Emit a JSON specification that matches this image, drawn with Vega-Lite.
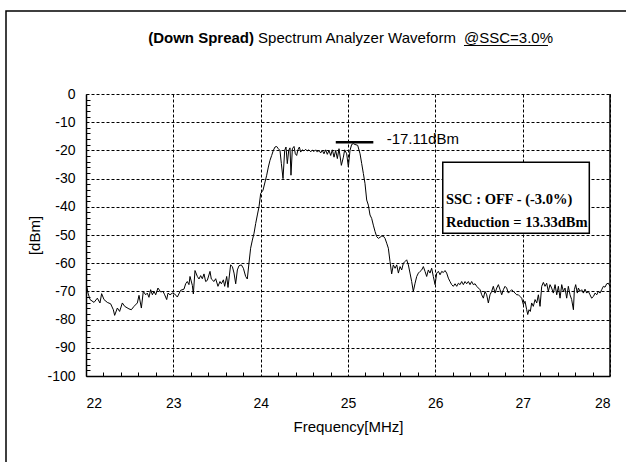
{
  "$schema": "https://vega.github.io/schema/vega-lite/v6.json",
  "width": 524,
  "height": 282,
  "autosize": "none",
  "padding": {"left": 86, "top": 94, "right": 16, "bottom": 86},
  "background": "white",
  "config": {"view": {"stroke": null}, "font": "Liberation Sans"},
  "datasets": {
    "spectrum": [
      {"f":22.008,"db":-68.0},{"f":22.023,"db":-70.6},{"f":22.046,"db":-72.9},{"f":22.092,"db":-73.9},{"f":22.130,"db":-72.4},{"f":22.160,"db":-74.1},{"f":22.179,"db":-70.8},{"f":22.206,"db":-72.9},{"f":22.244,"db":-73.9},{"f":22.282,"db":-74.4},{"f":22.313,"db":-76.5},{"f":22.328,"db":-78.5},{"f":22.359,"db":-75.9},{"f":22.385,"db":-77.1},{"f":22.416,"db":-74.1},{"f":22.443,"db":-75.3},{"f":22.492,"db":-76.2},{"f":22.519,"db":-76.5},{"f":22.550,"db":-75.3},{"f":22.588,"db":-74.1},{"f":22.607,"db":-71.4},{"f":22.634,"db":-75.9},{"f":22.656,"db":-70.0},{"f":22.683,"db":-71.2},{"f":22.702,"db":-70.6},{"f":22.721,"db":-72.1},{"f":22.740,"db":-69.4},{"f":22.760,"db":-71.2},{"f":22.779,"db":-70.0},{"f":22.798,"db":-71.2},{"f":22.824,"db":-68.8},{"f":22.855,"db":-70.2},{"f":22.882,"db":-70.0},{"f":22.901,"db":-71.2},{"f":22.924,"db":-72.9},{"f":22.939,"db":-70.6},{"f":22.962,"db":-71.2},{"f":22.989,"db":-70.6},{"f":23.015,"db":-70.9},{"f":23.046,"db":-72.0},{"f":23.084,"db":-69.6},{"f":23.122,"db":-69.2},{"f":23.141,"db":-67.3},{"f":23.160,"db":-66.5},{"f":23.179,"db":-67.6},{"f":23.191,"db":-64.7},{"f":23.218,"db":-67.9},{"f":23.229,"db":-70.9},{"f":23.248,"db":-62.6},{"f":23.275,"db":-64.7},{"f":23.294,"db":-65.6},{"f":23.313,"db":-64.4},{"f":23.332,"db":-65.5},{"f":23.351,"db":-63.8},{"f":23.370,"db":-66.5},{"f":23.389,"db":-66.1},{"f":23.420,"db":-62.9},{"f":23.435,"db":-65.6},{"f":23.466,"db":-66.5},{"f":23.485,"db":-65.5},{"f":23.511,"db":-68.2},{"f":23.534,"db":-66.5},{"f":23.550,"db":-67.3},{"f":23.573,"db":-65.9},{"f":23.588,"db":-68.2},{"f":23.611,"db":-64.7},{"f":23.626,"db":-68.6},{"f":23.656,"db":-60.6},{"f":23.676,"db":-61.2},{"f":23.695,"db":-63.5},{"f":23.714,"db":-67.3},{"f":23.733,"db":-62.4},{"f":23.752,"db":-60.9},{"f":23.779,"db":-60.6},{"f":23.802,"db":-61.8},{"f":23.828,"db":-64.7},{"f":23.847,"db":-65.6},{"f":23.866,"db":-60.0},{"f":23.885,"db":-54.7},{"f":23.905,"db":-51.8},{"f":23.924,"db":-49.4},{"f":23.943,"db":-45.9},{"f":23.962,"db":-42.9},{"f":23.981,"db":-40.0},{"f":24.000,"db":-35.3},{"f":24.027,"db":-34.1},{"f":24.050,"db":-31.2},{"f":24.069,"db":-28.8},{"f":24.088,"db":-25.9},{"f":24.107,"db":-23.5},{"f":24.126,"db":-21.8},{"f":24.145,"db":-20.0},{"f":24.164,"db":-18.8},{"f":24.183,"db":-18.6},{"f":24.202,"db":-19.4},{"f":24.221,"db":-20.0},{"f":24.237,"db":-24.7},{"f":24.256,"db":-30.0},{"f":24.275,"db":-20.0},{"f":24.290,"db":-18.8},{"f":24.305,"db":-24.7},{"f":24.321,"db":-20.0},{"f":24.336,"db":-19.1},{"f":24.347,"db":-28.8},{"f":24.363,"db":-19.4},{"f":24.382,"db":-18.6},{"f":24.397,"db":-21.2},{"f":24.412,"db":-21.8},{"f":24.427,"db":-19.8},{"f":24.443,"db":-18.8},{"f":24.458,"db":-20.6},{"f":24.477,"db":-19.8},{"f":24.496,"db":-20.2},{"f":24.515,"db":-19.6},{"f":24.534,"db":-20.2},{"f":24.553,"db":-19.8},{"f":24.573,"db":-20.5},{"f":24.592,"db":-19.9},{"f":24.611,"db":-20.4},{"f":24.630,"db":-19.8},{"f":24.649,"db":-20.6},{"f":24.668,"db":-20.0},{"f":24.687,"db":-20.9},{"f":24.706,"db":-20.0},{"f":24.725,"db":-21.2},{"f":24.744,"db":-19.8},{"f":24.763,"db":-21.4},{"f":24.782,"db":-20.0},{"f":24.802,"db":-21.8},{"f":24.821,"db":-19.8},{"f":24.840,"db":-22.4},{"f":24.859,"db":-20.0},{"f":24.878,"db":-22.9},{"f":24.897,"db":-19.4},{"f":24.924,"db":-25.3},{"f":24.947,"db":-22.4},{"f":24.962,"db":-19.8},
      {"f":24.985,"db":-21.2},{"f":25.004,"db":-25.9},{"f":25.023,"db":-20.0},{"f":25.042,"db":-17.9},{"f":25.061,"db":-17.6},{"f":25.080,"db":-17.9},{"f":25.111,"db":-18.2},{"f":25.138,"db":-21.2},{"f":25.157,"db":-24.7},{"f":25.176,"db":-28.2},{"f":25.195,"db":-31.8},{"f":25.214,"db":-37.6},{"f":25.233,"db":-39.4},{"f":25.252,"db":-42.9},{"f":25.271,"db":-44.1},{"f":25.290,"db":-46.5},{"f":25.310,"db":-48.8},{"f":25.329,"db":-50.6},{"f":25.348,"db":-51.2},{"f":25.367,"db":-50.8},{"f":25.386,"db":-50.4},{"f":25.405,"db":-50.4},{"f":25.424,"db":-51.2},{"f":25.443,"db":-52.9},{"f":25.462,"db":-54.7},{"f":25.481,"db":-59.4},{"f":25.500,"db":-63.8},{"f":25.519,"db":-60.6},{"f":25.539,"db":-61.8},{"f":25.558,"db":-60.6},{"f":25.577,"db":-63.5},{"f":25.596,"db":-61.2},{"f":25.615,"db":-62.4},{"f":25.634,"db":-60.0},{"f":25.653,"db":-59.4},{"f":25.672,"db":-58.8},{"f":25.691,"db":-60.6},{"f":25.710,"db":-63.5},{"f":25.729,"db":-66.5},{"f":25.748,"db":-70.0},{"f":25.768,"db":-67.1},{"f":25.787,"db":-64.7},{"f":25.806,"db":-63.5},{"f":25.825,"db":-62.9},{"f":25.844,"db":-62.4},{"f":25.863,"db":-61.2},{"f":25.882,"db":-62.9},{"f":25.901,"db":-64.7},{"f":25.920,"db":-62.4},{"f":25.939,"db":-63.5},{"f":25.958,"db":-61.8},{"f":25.977,"db":-64.7},{"f":25.997,"db":-67.6},{"f":26.016,"db":-63.5},{"f":26.035,"db":-62.9},{"f":26.054,"db":-64.1},{"f":26.073,"db":-62.9},{"f":26.092,"db":-63.3},{"f":26.111,"db":-62.6},{"f":26.130,"db":-63.5},{"f":26.149,"db":-65.3},{"f":26.168,"db":-66.5},{"f":26.187,"db":-67.6},{"f":26.206,"db":-68.2},{"f":26.226,"db":-67.3},{"f":26.245,"db":-68.2},{"f":26.264,"db":-67.1},{"f":26.283,"db":-67.6},{"f":26.302,"db":-66.5},{"f":26.321,"db":-67.6},{"f":26.340,"db":-66.5},{"f":26.359,"db":-67.3},{"f":26.378,"db":-66.5},{"f":26.397,"db":-67.6},{"f":26.416,"db":-66.5},{"f":26.435,"db":-67.6},{"f":26.455,"db":-67.3},{"f":26.474,"db":-68.2},{"f":26.493,"db":-68.8},{"f":26.512,"db":-69.4},{"f":26.531,"db":-71.2},{"f":26.550,"db":-72.4},{"f":26.569,"db":-70.0},{"f":26.588,"db":-71.2},{"f":26.607,"db":-74.1},{"f":26.626,"db":-71.2},{"f":26.645,"db":-70.0},{"f":26.664,"db":-68.2},{"f":26.684,"db":-70.6},{"f":26.703,"db":-68.8},{"f":26.722,"db":-67.6},{"f":26.741,"db":-69.4},{"f":26.760,"db":-71.2},{"f":26.779,"db":-69.4},{"f":26.798,"db":-68.2},{"f":26.817,"db":-68.8},{"f":26.836,"db":-70.6},{"f":26.855,"db":-70.0},{"f":26.874,"db":-69.4},{"f":26.893,"db":-70.0},{"f":26.913,"db":-70.6},{"f":26.932,"db":-71.2},{"f":26.951,"db":-71.2},{"f":26.970,"db":-71.8},{"f":26.989,"db":-72.4},{"f":27.008,"db":-74.7},{"f":27.027,"db":-73.5},{"f":27.046,"db":-76.5},{"f":27.058,"db":-78.2},{"f":27.073,"db":-76.5},{"f":27.088,"db":-77.1},{"f":27.103,"db":-74.1},{"f":27.122,"db":-75.3},{"f":27.142,"db":-72.9},{"f":27.161,"db":-74.1},{"f":27.180,"db":-71.2},{"f":27.199,"db":-75.3},{"f":27.218,"db":-68.2},{"f":27.237,"db":-66.8},{"f":27.256,"db":-68.2},{"f":27.275,"db":-67.1},{"f":27.294,"db":-70.0},{"f":27.313,"db":-67.6},{"f":27.332,"db":-68.8},{"f":27.351,"db":-70.6},{"f":27.371,"db":-67.6},{"f":27.390,"db":-71.2},{"f":27.409,"db":-68.2},{"f":27.428,"db":-72.4},{"f":27.447,"db":-67.6},{"f":27.466,"db":-70.0},{"f":27.485,"db":-68.8},{"f":27.504,"db":-72.4},{"f":27.523,"db":-68.2},{"f":27.542,"db":-71.2},{"f":27.561,"db":-72.9},{"f":27.581,"db":-76.5},{"f":27.592,"db":-69.4},{"f":27.607,"db":-67.6},{"f":27.626,"db":-70.6},{"f":27.638,"db":-68.8},{"f":27.657,"db":-70.0},{"f":27.676,"db":-69.4},{"f":27.695,"db":-70.6},{"f":27.714,"db":-69.2},{"f":27.733,"db":-70.6},{"f":27.752,"db":-70.0},{"f":27.771,"db":-71.2},{"f":27.790,"db":-72.4},{"f":27.810,"db":-71.8},{"f":27.829,"db":-70.6},{"f":27.848,"db":-71.2},{"f":27.867,"db":-70.0},{"f":27.886,"db":-70.6},{"f":27.905,"db":-69.4},{"f":27.924,"db":-68.2},{"f":27.943,"db":-68.5},{"f":27.962,"db":-67.3},{"f":27.981,"db":-67.1},{"f":28.000,"db":-68.2}
    ],
    "one": [{}]
  },
  "resolve": {"axis": {"x": "independent", "y": "independent"}},
  "layer": [
    {
      "data": {"name": "one"},
      "mark": {"type": "rule", "strokeOpacity": 0},
      "encoding": {
        "x": {"datum": 22, "type": "quantitative",
          "scale": {"domain": [22, 28], "nice": false, "zero": false},
          "axis": {
            "orient": "bottom",
            "values": [22.2,22.4,22.6,22.8,23.2,23.4,23.6,23.8,24.2,24.4,24.6,24.8,25.2,25.4,25.6,25.8,26.2,26.4,26.6,26.8,27.2,27.4,27.6,27.8],
            "grid": false, "domain": false, "labels": false, "title": null,
            "ticks": true, "tickColor": "black", "tickSize": -4, "tickWidth": 1
          }
        },
        "y": {"datum": 0, "type": "quantitative",
          "scale": {"domain": [-100, 0], "nice": false, "zero": false},
          "axis": {
            "orient": "left",
            "values": [-2,-4,-6,-8,-12,-14,-16,-18,-22,-24,-26,-28,-32,-34,-36,-38,-42,-44,-46,-48,-52,-54,-56,-58,-62,-64,-66,-68,-72,-74,-76,-78,-82,-84,-86,-88,-92,-94,-96,-98],
            "grid": false, "domain": false, "labels": false, "title": null,
            "ticks": true, "tickColor": "black", "tickSize": -4, "tickWidth": 1
          }
        }
      }
    },
    {
      "data": {"name": "spectrum"},
      "mark": {"type": "line", "color": "black", "strokeWidth": 1},
      "encoding": {
        "x": {
          "field": "f", "type": "quantitative",
          "scale": {"domain": [22, 28], "nice": false, "zero": false},
          "axis": {
            "orient": "bottom",
            "values": [22, 23, 24, 25, 26, 27, 28],
            "grid": true, "gridColor": "black", "gridDash": [3, 2], "gridWidth": 1, "gridOpacity": 1,
            "domain": true, "domainColor": "black", "domainWidth": 1.5,
            "ticks": false, "labelOverlap": false,
            "labelExpr": "'' + datum.value",
            "labelFont": "Liberation Sans", "labelFontSize": 14, "labelColor": "black", "labelPadding": 20,
            "title": "Frequency[MHz]", "titleFont": "Liberation Sans", "titleFontSize": 15,
            "titleFontWeight": "normal", "titleColor": "black", "titlePadding": 9
          }
        },
        "y": {
          "field": "db", "type": "quantitative",
          "scale": {"domain": [-100, 0], "nice": false, "zero": false},
          "axis": {
            "orient": "left",
            "values": [0, -10, -20, -30, -40, -50, -60, -70, -80, -90, -100],
            "grid": true, "gridColor": "black", "gridDash": [3, 2], "gridWidth": 1, "gridOpacity": 1,
            "domain": true, "domainColor": "black", "domainWidth": 1.5,
            "ticks": false, "labelOverlap": false,
            "labelExpr": "'' + datum.value",
            "labelFont": "Liberation Sans", "labelFontSize": 14, "labelColor": "black", "labelPadding": 11,
            "title": "[dBm]", "titleFont": "Liberation Sans", "titleFontSize": 15,
            "titleFontWeight": "normal", "titleColor": "black", "titlePadding": 4
          }
        }
      }
    },
    {
      "data": {"name": "one"},
      "mark": {"type": "rule", "color": "black", "strokeWidth": 1.5},
      "encoding": {
        "x": {"datum": 28, "type": "quantitative", "axis": null},
        "y": {"datum": 0, "type": "quantitative", "axis": null},
        "y2": {"datum": -100}
      }
    },
    {
      "data": {"name": "one"},
      "mark": {"type": "rule", "color": "black", "strokeWidth": 2.5},
      "encoding": {
        "x": {"datum": 24.86, "type": "quantitative", "axis": null},
        "x2": {"datum": 25.29},
        "y": {"datum": -17.1, "type": "quantitative", "axis": null}
      }
    },
    {
      "data": {"name": "one"},
      "mark": {"type": "text", "text": "-17.11dBm", "align": "left", "baseline": "alphabetic", "font": "Liberation Sans", "fontSize": 15, "color": "black"},
      "encoding": {
        "x": {"datum": 25.443, "type": "quantitative", "axis": null},
        "y": {"datum": -17.7, "type": "quantitative", "axis": null}
      }
    },
    {
      "data": {"name": "one"},
      "mark": {"type": "rect", "fill": "white", "stroke": "black", "strokeWidth": 1.5},
      "encoding": {
        "x": {"datum": 26.085, "type": "quantitative", "axis": null},
        "x2": {"datum": 27.763},
        "y": {"datum": -24.2, "type": "quantitative", "axis": null},
        "y2": {"datum": -49.4}
      }
    },
    {
      "data": {"name": "one"},
      "mark": {"type": "text", "text": "SSC : OFF - (-3.0%)", "align": "left", "baseline": "alphabetic", "font": "Liberation Serif", "fontWeight": "bold", "fontSize": 14.5, "color": "black"},
      "encoding": {
        "x": {"datum": 26.122, "type": "quantitative", "axis": null},
        "y": {"datum": -39.0, "type": "quantitative", "axis": null}
      }
    },
    {
      "data": {"name": "one"},
      "mark": {"type": "text", "text": "Reduction = 13.33dBm", "align": "left", "baseline": "alphabetic", "font": "Liberation Serif", "fontWeight": "bold", "fontSize": 14.5, "color": "black"},
      "encoding": {
        "x": {"datum": 26.122, "type": "quantitative", "axis": null},
        "y": {"datum": -47.0, "type": "quantitative", "axis": null}
      }
    },
    {
      "data": {"name": "one"},
      "mark": {"type": "text", "text": "(Down Spread)", "align": "right", "baseline": "alphabetic", "font": "Liberation Sans", "fontWeight": "bold", "fontSize": 15, "color": "black"},
      "encoding": {
        "x": {"datum": 23.924, "type": "quantitative", "axis": null},
        "y": {"datum": 18.1, "type": "quantitative", "axis": null}
      }
    },
    {
      "data": {"name": "one"},
      "mark": {"type": "text", "text": "Spectrum Analyzer Waveform", "align": "left", "baseline": "alphabetic", "font": "Liberation Sans", "fontSize": 15, "color": "black"},
      "encoding": {
        "x": {"datum": 23.97, "type": "quantitative", "axis": null},
        "y": {"datum": 18.1, "type": "quantitative", "axis": null}
      }
    },
    {
      "data": {"name": "one"},
      "mark": {"type": "text", "text": "@SSC=3.0%", "align": "left", "baseline": "alphabetic", "font": "Liberation Sans", "fontSize": 15, "color": "black"},
      "encoding": {
        "x": {"datum": 26.328, "type": "quantitative", "axis": null},
        "y": {"datum": 18.1, "type": "quantitative", "axis": null}
      }
    },
    {
      "data": {"name": "one"},
      "mark": {"type": "rule", "color": "black", "strokeWidth": 1},
      "encoding": {
        "x": {"datum": 26.328, "type": "quantitative", "axis": null},
        "x2": {"datum": 27.29},
        "y": {"datum": 17.2, "type": "quantitative", "axis": null}
      }
    },
    {
      "data": {"name": "one"},
      "mark": {"type": "rect", "fill": "white", "fillOpacity": 0, "stroke": "black", "strokeWidth": 1.5},
      "encoding": {
        "x": {"datum": 21.084, "type": "quantitative", "axis": null},
        "x2": {"datum": 29.5},
        "y": {"datum": 29.4, "type": "quantitative", "axis": null},
        "y2": {"datum": -200}
      }
    }
  ]
}
